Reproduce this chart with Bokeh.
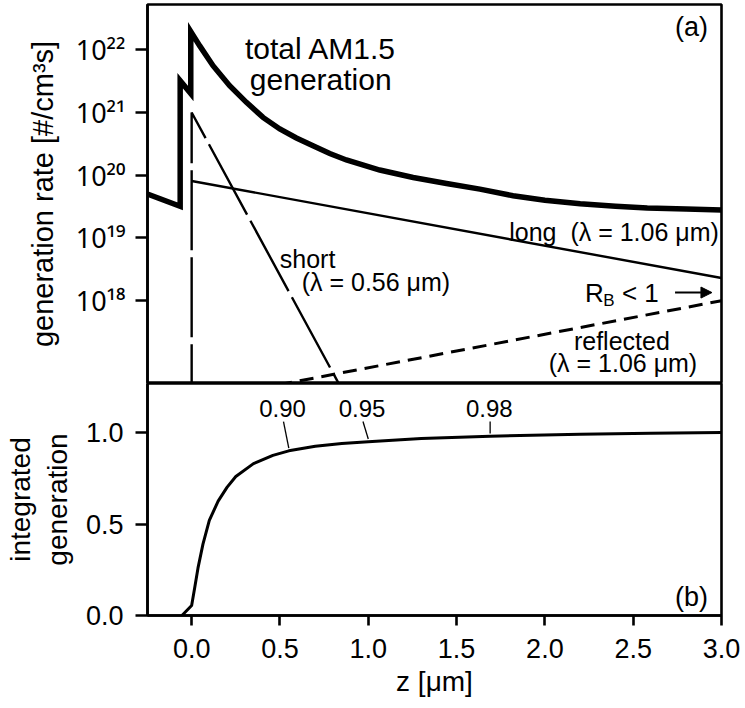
from bokeh.embed import file_html
from bokeh.layouts import column
from bokeh.models import Arrow, FixedTicker, Label, NormalHead, Range1d
from bokeh.core.properties import value
from bokeh.plotting import figure
from bokeh.resources import INLINE

FONT = "Liberation Sans"
SUP_FONT = "Noto Sans"

# ---- (a) generation rate [#/cm^3 s] versus depth z [um] ----
total_z = [-0.25, -0.065, -0.065, -0.005, -0.005, 0.045, 0.121, 0.215, 0.310, 0.404,
           0.499, 0.593, 0.687, 0.782, 0.876, 1.065, 1.254, 1.443, 1.632, 1.82, 2.0,
           2.20, 2.4, 2.58, 2.8, 3.0]
total_g = [5.0e19, 3.2e19, 3.2e21, 2.0e21, 1.95e22, 1.16e22, 5.56e21, 2.67e21, 1.45e21, 8.34e20,
           5.45e20, 3.92e20, 2.95e20, 2.22e20, 1.75e20, 1.21e20, 9.2e19, 7.4e19, 6.0e19, 4.7e19,
           4.0e19, 3.5e19, 3.2e19, 3.0e19, 2.9e19, 2.8e19]

long_z = [0.0, 3.0]
long_g = [8.1e19, 2.3e18]

short_z = [0.0, 0.0, 0.85]
short_g = [1.0e16, 1.0e21, 3.9e16]

refl_z = [0.0, 3.0]
refl_g = [2.5e16, 1.0e18]

gen_ticks = [1e18, 1e19, 1e20, 1e21, 1e22]
gen_tick_labels = ["10¹⁸", "10¹⁹", "10²⁰", "10²¹", "10²²"]

# ---- (b) integrated generation ----
integ_z = [-0.055, 0.0, 0.017, 0.036, 0.064, 0.10, 0.15, 0.20, 0.25, 0.35, 0.46,
           0.55, 0.70, 0.85, 1.0, 1.3, 1.69, 2.2, 2.6, 3.0]
integ_v = [0.0, 0.055, 0.15, 0.26, 0.39, 0.52, 0.625, 0.70, 0.76, 0.83, 0.875,
           0.90, 0.925, 0.94, 0.95, 0.967, 0.98, 0.99, 0.996, 1.0]

mark_z = [0.55, 1.0, 1.69]
mark_v = [0.90, 0.95, 0.98]
mark_text = ["0.90", "0.95", "0.98"]
mark_lean = [0.03, 0.03, 0.0]

z_ticks = [0.0, 0.5, 1.0, 1.5, 2.0, 2.5, 3.0]
v_ticks = [0.0, 0.5, 1.0]

x_range = Range1d(-0.25, 3.0)
LEFT, RIGHT = 147, 24
AXW = 2.6


def style_frame(p):
    p.outline_line_color = "black"
    p.outline_line_width = AXW
    p.outline_line_alpha = 1.0
    p.xgrid.visible = False
    p.ygrid.visible = False
    p.background_fill_color = "white"
    p.border_fill_color = "white"


def style_axis(ax, tick):
    ax.major_tick_out = tick
    ax.major_tick_in = 0
    ax.minor_tick_out = 0
    ax.minor_tick_in = 0
    ax.axis_line_width = AXW
    ax.major_tick_line_width = AXW
    ax.major_label_text_font = FONT
    ax.major_label_text_font_size = "27px"
    ax.major_label_text_color = "black"
    ax.axis_label_text_font = FONT
    ax.axis_label_text_font_size = "28px"
    ax.axis_label_text_font_style = "normal"
    ax.axis_label_text_color = "black"


def label(p, x, y, text, size, align="left", baseline="middle", dy=0):
    p.add_layout(Label(x=x, y=y, text=text, y_offset=dy,
                       text_font=FONT, text_font_size=f"{size}px", text_color="black",
                       text_align=align, text_baseline=baseline))


# ---------------- top panel ----------------
p1 = figure(width=745, height=383, x_range=x_range, y_range=Range1d(4.8e16, 5.25e22),
            y_axis_type="log", x_axis_location=None, toolbar_location=None,
            output_backend="svg", min_border_left=LEFT, min_border_right=RIGHT,
            min_border_top=4, min_border_bottom=0)
style_frame(p1)
ya = p1.yaxis[0]
ya.ticker = FixedTicker(ticks=gen_ticks, minor_ticks=[])
ya.major_label_overrides = dict(zip(gen_ticks, gen_tick_labels))
ya.axis_label = "generation rate [#/cm³s]"
style_axis(ya, 12)
ya.major_label_text_font = SUP_FONT
ya.major_label_text_font_size = "27px"
ya.axis_label_text_font_size = "29px"
ya.major_label_standoff = 10
ya.axis_label_standoff = 14

p1.line(total_z, total_g, line_width=5.5, line_color="black", line_join="miter")
p1.line(long_z, long_g, line_width=2.4, line_color="black")
p1.line(short_z, short_g, line_width=2.4, line_color="black",
        line_dash="80 7", line_dash_offset=85)
p1.line(refl_z, refl_g, line_width=3.0, line_color="black", line_dash="14 8")

label(p1, 0.731, 1.04e22, "total AM1.5", 30, align="center")
label(p1, 0.731, 3.3e21, "generation", 30, align="center")
label(p1, 2.985, 1.26e19, "long\u00a0\u00a0(λ = 1.06 μm)", 25, align="right")
label(p1, 0.499, 4.7e18, "short", 25)
label(p1, 0.623, 2.0e18, "(λ = 0.56 μm)", 25)
label(p1, 2.436, 2.3e17, "reflected", 25, align="center")
label(p1, 2.442, 1.02e17, "(λ = 1.06 μm)", 25, align="center")
label(p1, 2.227, 1.35e18, "R", 26)
label(p1, 2.330, 1.35e18, "B", 17, dy=-8)
label(p1, 2.436, 1.35e18, "< 1", 26)
label(p1, 2.924, 2.3e22, "(a)", 27, align="right")
p1.add_layout(Arrow(end=NormalHead(size=11, fill_color="black", line_color="black"),
                    x_start=2.737, y_start=1.35e18, x_end=2.946, y_end=1.35e18,
                    line_width=2, line_color="black"))

# ---------------- bottom panel ----------------
p2 = figure(width=745, height=325, x_range=x_range, y_range=Range1d(0.0, 1.268),
            toolbar_location=None, output_backend="svg",
            min_border_left=LEFT, min_border_right=RIGHT, min_border_top=0,
            min_border_bottom=93)
style_frame(p2)
xa = p2.xaxis[0]
xa.ticker = FixedTicker(ticks=z_ticks, minor_ticks=[])
xa.major_label_overrides = {t: f"{t:.1f}" for t in z_ticks}
xa.axis_label = "z [μm]"
yb = p2.yaxis[0]
yb.ticker = FixedTicker(ticks=v_ticks, minor_ticks=[])
yb.major_label_overrides = {t: f"{t:.1f}" for t in v_ticks}
yb.axis_label = "integrated\ngeneration"
style_axis(xa, 10)
style_axis(yb, 12)
xa.major_label_standoff = 13
xa.axis_label_standoff = 5
yb.major_label_standoff = 12
yb.axis_label_standoff = 10

p2.line(integ_z, integ_v, line_width=3.0, line_color="black")

lead_x0 = [z - d for z, d in zip(mark_z, mark_lean)]
lead_x1 = mark_z
lead_y0 = [1.06] * len(mark_z)
lead_y1 = [v + 0.015 for v in mark_v]
p2.segment(lead_x0, lead_y0, lead_x1, lead_y1, line_width=1.3, line_color="black")
p2.text(x=[x - 0.005 for x in lead_x0], y=[1.13] * len(mark_z), text=mark_text,
        text_font=value(FONT), text_font_size="24px", text_color="black",
        text_align="center", text_baseline="middle")

label(p2, 2.924, 0.103, "(b)", 27, align="right")

layout = column(p1, p2, spacing=0)
open("out.html", "w").write(file_html(layout, INLINE))
